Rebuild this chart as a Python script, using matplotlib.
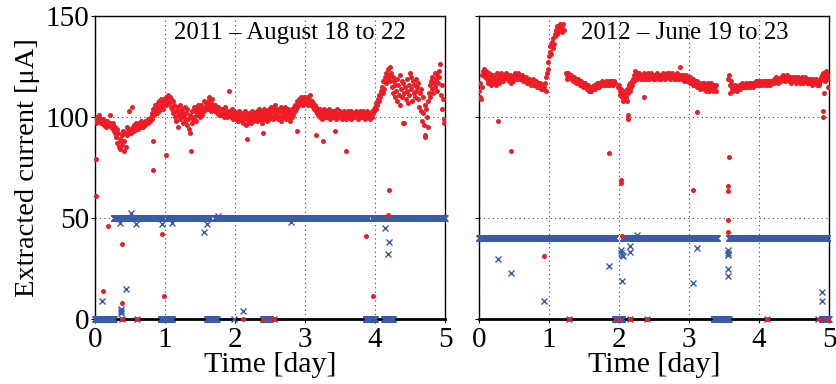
import numpy as np
import matplotlib
matplotlib.use("Agg")
import matplotlib.pyplot as plt

N = np.nan

# extracted current, sampled every 0.01 day
red_left = [
    98, 99, 97, 100, 99, 98, 101, 98, 97, 99,
    98, 97, 99, 96, 98, 97, 95, 98, 96, 97,
    96, 97, 101, 95, 96, 94, 97, 93, 95, 92,
    90, 94, 87, 92, 85, 89, 84, 88, 86, 91,
    93, 83, 88, 92, 85, 95, 91, 94, 103, 92,
    93, 94, 92, 105, 95, 93, 96, 94, 95, 97,
    95, 96, 94, 97, 96, 95, 98, 96, 97, 95,
    97, 98, 96, 98, 97, 99, 97, 98, 99, 98,
    100, 99, 102, 104, 101, 103, 106, 104, 102, 105,
    107, 103, 108, 105, 109, 106, 108, 104, 109, 107,
    108, 110, 106, 109, 111, 108, 107, 110, 105, 109,
    104, 108, 102, 106, 100, 103, 98, 105, 101, 95,
    103, 99, 106, 101, 104, 97, 102, 100, 105, 98,
    102, 96, 104, 99, 94, 101, 92, 100, 97, 103,
    99, 105, 100, 103, 98, 104, 101, 106, 102, 104,
    100, 103, 106, 101, 104, 108, 103, 105, 107, 104,
    106, 108, 104, 110, 105, 107, 103, 109, 106, 104,
    105, 103, 106, 104, 102, 105, 103, 101, 104, 102,
    103, 101, 104, 102, 100, 103, 105, 101, 103, 100,
    102, 113, 101, 103, 100, 104, 102, 99, 103, 101,
    101, 99, 102, 100, 98, 101, 103, 99, 100, 102,
    98, 101, 97, 100, 103, 96, 99, 101, 97, 100,
    102, 99, 101, 97, 103, 100, 98, 102, 99, 101,
    100, 103, 98, 101, 104, 99, 102, 100, 97, 103,
    101, 99, 104, 100, 102, 98, 103, 101, 99, 104,
    102, 105, 100, 103, 99, 104, 101, 106, 100, 103,
    101, 104, 99, 103, 100, 105, 98, 102, 104, 100,
    103, 101, 105, 99, 102, 104, 100, 103, 98, 101,
    102, 100, 104, 101, 105, 103, 106, 104, 108, 105,
    107, 109, 106, 108, 110, 107, 109, 106, 110, 108,
    109, 107, 110, 108, 106, 109, 107, 111, 108, 106,
    108, 105, 107, 104, 106, 103, 105, 102, 104, 101,
    103, 100, 104, 102, 99, 103, 101, 104, 100, 102,
    101, 103, 100, 102, 104, 99, 102, 101, 103, 100,
    102, 100, 103, 101, 99, 102, 104, 100, 102, 101,
    103, 100, 102, 99, 101, 103, 100, 102, 101, 99,
    102, 100, 103, 101, 102, 99, 103, 100, 102, 101,
    100, 102, 101, 103, 100, 102, 99, 101, 103, 100,
    102, 101, 100, 103, 101, 99, 102, 100, 101, 103,
    101, 100, 102, 99, 101, 100, 103, 102, 104, 103,
    105, 104, 107, 106, 109, 108, 111, 110, 113, 112,
    115, 112, 118, 114, 120, 117, 122, 119, 124, 121,
    120, 125, 118, 122, 115, 120, 112, 118, 110, 116,
    113, 119, 108, 116, 111, 121, 106, 114, 118, 110,
    117, 112, 97, 115, 109, 119, 113, 107, 116, 111,
    122, 114, 120, 108, 118, 112, 116, 110, 119, 113,
    115, 109, 117, 105, 112, 103, 114, 98, 110, 102,
    96, 106, 91, 104, 100, 95, 108, 112, 116, 110,
    118, 114, 120, 112, 117, 122, 115, 119, 113, 121,
    117, 123, 120, 126, 111, 116, 104, 109, 99, 97,
]

red_right = [
    113, 110, 117, 109, 115, 121, 123, 124, 122, 120,
    123, 119, 121, 117, 122, 118, 120, 116, 121, 119,
    117, 120, 118, 121, 116, 119, 122, 118, 120, 117,
    121, 119, 122, 120, 118, 121, 119, 120, 122, 120,
    121, 119, 120, 118, 121, 119, 117, 120, 118, 119,
    121, 122, 120, 121, 119, 122, 120, 121, 119, 120,
    120, 119, 121, 118, 120, 119, 118, 120, 117, 119,
    118, 119, 117, 118, 116, 118, 117, 119, 116, 117,
    117, 116, 118, 115, 117, 116, 115, 117, 114, 116,
    115, 116, 114, 115, 117, 113, 120, 122, 124, 127,
    130, 132, 135, 131, 137, 134, 139, 136, 141, 140,
    143, 141, 145, 142, 144, 146, 143, 145, 142, 144,
    146, 143, N, N, 122, 121, 119, 122, 120, 121,
    120, 121, 119, 120, 118, 119, 120, 118, 119, 117,
    118, 119, 117, 118, 116, 117, 118, 116, 117, 115,
    116, 117, 115, 116, 114, 116, 115, 113, 115, 114,
    113, 115, 114, 115, 116, 114, 115, 116, 115, 117,
    116, 117, 115, 116, 117, 116, 118, 117, 116, 117,
    117, 116, 118, 117, 116, 118, 117, 116, 118, 117,
    118, 117, 116, 118, 117, N, N, N, N, 115,
    116, 113, 111, 114, 110, 112, 108, 111, 109, 113,
    110, 114, 108, 112, 116, 113, 117, 115, 118, 116,
    119, 121, 118, 123, 120, 122, 119, 121, 120, 122,
    121, 120, 119, 121, 120, 122, 119, 120, 121, 119,
    120, 122, 121, 119, 120, 121, 122, 120, 119, 121,
    120, 121, 119, 120, 122, 120, 121, 119, 120, 121,
    119, 121, 120, 122, 120, 119, 121, 120, 122, 121,
    120, 122, 121, 119, 121, 120, 122, 121, 119, 120,
    121, 119, 120, 122, 120, 121, 119, 125, 121, 120,
    119, 121, 120, 118, 120, 119, 121, 118, 120, 119,
    118, 120, 117, 119, 118, 116, 119, 117, 118, 116,
    117, 115, 118, 116, 117, 115, 114, 116, 117, 115,
    116, 114, 117, 115, 113, 116, 114, 117, 115, 113,
    116, 114, 117, 115, 113, 116, 114, 115, 113, 116,
    N, N, N, N, N, N, N, N, N, N,
    N, N, N, N, N, N, 119, 121, 116, 112,
    118, 114, 116, 113, 115, 114, 116, 115, 113, 115,
    114, 116, 115, 114, 116, 115, 117, 116, 115, 116,
    116, 115, 117, 116, 115, 117, 116, 115, 117, 116,
    117, 116, 115, 117, 116, 118, 117, 116, 117, 118,
    116, 117, 118, 116, 117, 118, 117, 116, 118, 117,
    118, 117, 116, 118, 117, 118, 116, 117, 118, 117,
    118, 119, 117, 118, 120, 119, 118, 117, 119, 118,
    119, 120, 118, 120, 121, 119, 120, 118, 119, 120,
    121, 119, 120, 118, 120, 119, 117, 119, 120, 118,
    119, 118, 120, 117, 119, 118, 120, 119, 117, 119,
    118, 120, 119, 117, 118, 120, 118, 119, 117, 118,
    119, 118, 117, 119, 118, 116, 118, 119, 117, 118,
    117, 119, 118, 116, 118, 117, 116, 118, 120, 119,
    121, 122, 120, 112, 118, 121, 123, 119, 115, 121,
]

# isolated readings (time [day], current)
red_left_extra = [
    (0.01, 61), (0.02, 79), (0.11, 14), (0.19, 46), (0.38, 37), (0.38, 8),
    (0.83, 74), (0.83, 88), (0.96, 42), (0.98, 11.5), (1.01, 81), (1.37, 83),
    (2.17, 89), (2.40, 92), (2.88, 93), (3.15, 91), (3.26, 88), (3.43, 93),
    (3.58, 83), (3.87, 41), (3.97, 11.5), (4.19, 51.5), (4.20, 64),
    (4.40, 97), (4.72, 90),
    (0.38, 0), (0.60, 0), (2.12, 0), (2.40, 0), (2.55, 0),
]
red_right_extra = [
    (0.27, 98), (0.46, 83), (0.93, 31), (1.86, 82), (2.03, 67.5), (2.03, 69),
    (2.04, 41), (2.13, 101), (2.13, 99), (2.36, 110), (3.06, 64),
    (3.11, 102.6), (3.55, 66), (3.55, 63.5), (3.55, 49), (3.55, 43),
    (3.57, 80), (4.91, 103), (4.91, 100),
    (1.29, 0), (1.98, 0), (2.15, 0), (2.40, 0), (4.12, 0), (4.86, 0), (4.98, 0),
]

# second series: steady runs (start day, end day, level) plus isolated readings
blue_left_runs = [
    (0.27, 0.98, 50), (1.03, 1.64, 50), (1.71, 3.90, 50), (3.97, 4.15, 50),
    (4.20, 5.00, 50),
    (0.00, 0.27, 0), (0.94, 1.10, 0), (1.60, 1.74, 0), (2.40, 2.50, 0),
    (3.87, 4.00, 0), (4.13, 4.26, 0),
]
blue_left_extra = [
    (0.10, 9), (0.37, 5), (0.37, 4), (0.37, 3), (0.35, 47.5), (0.44, 15),
    (0.51, 52.3), (0.59, 47), (0.95, 47), (1.10, 47.5), (1.55, 43),
    (1.60, 47), (1.76, 51), (2.12, 3.8), (2.80, 48), (4.14, 45),
    (4.20, 38), (4.19, 32),
    (0.38, 0), (0.60, 0), (1.98, 0), (2.55, 0),
]
blue_right_runs = [
    (0.00, 1.95, 40), (2.05, 3.40, 40), (3.57, 4.98, 40),
    (1.94, 2.05, 0), (3.35, 3.57, 0), (4.90, 5.00, 0),
]
blue_right_extra = [
    (0.27, 29.7), (0.46, 23), (0.93, 9), (1.86, 26), (2.03, 34),
    (2.03, 32.5), (2.04, 31.5), (2.05, 31), (2.04, 19), (2.16, 36.3),
    (2.16, 33.3), (2.25, 41.7), (3.11, 35), (3.06, 18), (3.56, 34),
    (3.56, 32.5), (3.56, 31.5), (3.56, 24.7), (3.56, 21.5), (4.90, 13.2),
    (4.90, 9),
    (1.29, 0), (2.15, 0), (2.40, 0), (4.12, 0), (4.84, 0),
]

titles = ["2011 \u2013 August 18 to 22", "2012 \u2013 June 19 to 23"]
title_x = [0.557, 0.587]

RED = "#ee1c25"
BLUE = "#3a5ba8"

plt.rcParams["font.family"] = ["Liberation Serif", "DejaVu Serif"]
plt.rcParams["font.weight"] = "normal"


def expand_runs(runs, step=0.004):
    ts, vs = [], []
    for start, end, level in runs:
        t = np.arange(start, end, step)
        ts.append(t)
        vs.append(np.full(len(t), level, dtype=float))
    return np.concatenate(ts), np.concatenate(vs)


def draw_panel(ax, red, red_extra, blue_runs, blue_extra, title, tx, show_y):
    t_red = np.arange(len(red)) * 0.01
    v_red = np.array(red, dtype=float)

    bt, bv = expand_runs(blue_runs)
    ex_t, ex_v = zip(*blue_extra)
    ax.plot(bt, bv, "x", color=BLUE, ms=4.4, mew=1.0, zorder=3, clip_on=False)
    ax.plot(ex_t, ex_v, "x", color=BLUE, ms=4.4, mew=1.0, zorder=3, clip_on=False)

    ax.plot(t_red, v_red, "o", color=RED, ms=3.6, mew=0, zorder=4)
    rx_t, rx_v = zip(*red_extra)
    ax.plot(rx_t, rx_v, "o", color=RED, ms=3.6, mew=0, zorder=4, clip_on=False)

    ax.set_xlim(0, 5)
    ax.set_ylim(0, 150)
    ax.set_xticks([0, 1, 2, 3, 4, 5])
    ax.set_yticks([0, 50, 100, 150])
    ax.grid(True, linestyle=(0, (1, 3)), color="#444444", linewidth=0.8)
    ax.tick_params(direction="out", length=3, width=0.8, labelsize=21)
    ax.tick_params(axis="x", pad=3)
    ax.tick_params(axis="y", pad=1)
    if not show_y:
        ax.tick_params(axis="y", labelleft=False)
    for side in ["top", "right", "left"]:
        ax.spines[side].set_linewidth(1.0)
    ax.spines["bottom"].set_linewidth(2.0)
    ax.set_xlabel("Time [day]", fontsize=21.5, labelpad=-1,
                  fontweight="normal")
    ax.text(tx, 0.945, title, transform=ax.transAxes, ha="center",
            va="center", fontsize=17.8)


fig = plt.figure(figsize=(8.36, 3.84), dpi=100)
ax_l = fig.add_axes([95 / 836, 65 / 384, 350 / 836, 303 / 384])
ax_r = fig.add_axes([479 / 836, 65 / 384, 350 / 836, 303 / 384])

draw_panel(ax_l, red_left, red_left_extra, blue_left_runs, blue_left_extra,
           titles[0], title_x[0], True)
draw_panel(ax_r, red_right, red_right_extra, blue_right_runs,
           blue_right_extra, titles[1], title_x[1], False)
ax_l.set_ylabel("Extracted current [\u03bcA]", fontsize=20.5, labelpad=4)

fig.savefig("out.png", dpi=100)
